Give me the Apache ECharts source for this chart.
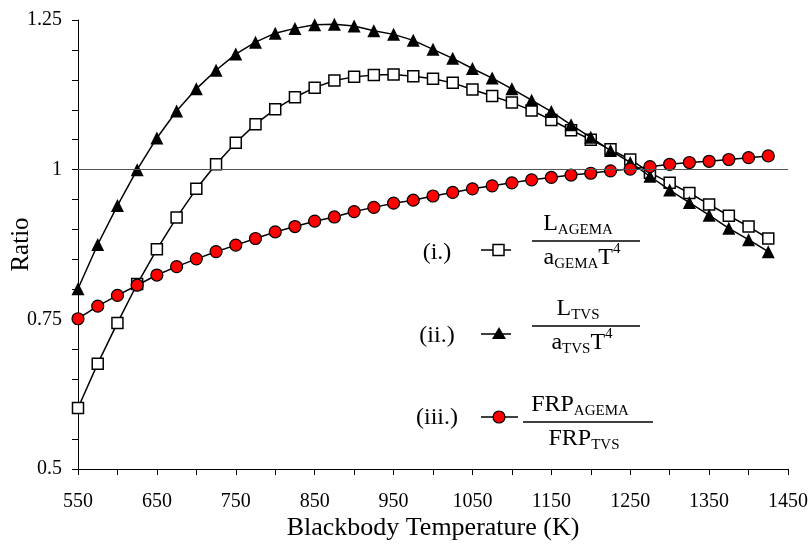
<!DOCTYPE html>
<html>
<head>
<meta charset="utf-8">
<script src="https://cdn.jsdelivr.net/npm/echarts@6/dist/echarts.min.js"></script>
<style>
  html, body { margin: 0; padding: 0; background: #fff; }
  #main { width: 809px; height: 546px; }
</style>
</head>
<body>
<div id="main"></div>
<script>
// blackbody temperatures (K)
var temps = [550, 575, 600, 625, 650, 675, 700, 725, 750, 775, 800, 825, 850, 875, 900, 925, 950, 975,
    1000, 1025, 1050, 1075, 1100, 1125, 1150, 1175, 1200, 1225, 1250, 1275, 1300, 1325, 1350, 1375, 1400, 1425];

// (i.) L_AGEMA / a_GEMA T^4
var agema = [0.602, 0.676, 0.744, 0.809, 0.867, 0.920, 0.968, 1.009, 1.045, 1.076, 1.101, 1.121, 1.137, 1.149, 1.155, 1.158, 1.159, 1.156,
    1.152, 1.145, 1.134, 1.123, 1.112, 1.099, 1.083, 1.066, 1.050, 1.034, 1.017, 0.995, 0.978, 0.961, 0.942, 0.923, 0.905, 0.885];

// (ii.) L_TVS / a_TVS T^4
var tvs = [0.801, 0.875, 0.940, 1.000, 1.053, 1.098, 1.135, 1.166, 1.193, 1.213, 1.228, 1.236, 1.242, 1.243, 1.240, 1.232, 1.226, 1.216,
    1.201, 1.186, 1.169, 1.153, 1.135, 1.116, 1.097, 1.075, 1.054, 1.032, 1.012, 0.989, 0.966, 0.945, 0.924, 0.902, 0.883, 0.863];

// (iii.) FRP_AGEMA / FRP_TVS
var frp = [0.751, 0.772, 0.790, 0.807, 0.824, 0.838, 0.851, 0.863, 0.874, 0.885, 0.896, 0.905, 0.914, 0.921, 0.930, 0.937, 0.944, 0.949,
    0.956, 0.962, 0.968, 0.973, 0.978, 0.983, 0.987, 0.991, 0.994, 0.998, 1.001, 1.005, 1.009, 1.012, 1.014, 1.017, 1.020, 1.023];

var yLabels = [0.5, 0.75, 1, 1.25];
var xLabels = [550, 650, 750, 850, 950, 1050, 1150, 1250, 1350, 1450];

function pairs(vals) {
    return temps.map(function (t, i) { return [t, vals[i]]; });
}

var serif = '"Liberation Serif", "Times New Roman", serif';

function fracText(main, sub, tail, sup) {
    var s = '{m|' + main + '}{s|' + sub + '}';
    if (tail) s += '{m|' + tail + '}';
    if (sup) s += '{p|' + sup + '}';
    return s;
}
var rich = {
    m: { fontFamily: serif, fontSize: 24, lineHeight: 28, verticalAlign: 'bottom' },
    s: { fontFamily: serif, fontSize: 15, lineHeight: 28, verticalAlign: 'bottom', padding: [0, 0, -2, 0] },
    p: { fontFamily: serif, fontSize: 15, lineHeight: 28, verticalAlign: 'top' }
};

// r: label text, label y, marker y, fraction line y, numerator y, denominator y
function legendRow(r) {
    var cx = (r.x1 + r.x2) / 2;
    var items = [
        { type: 'text', style: { text: r.label, x: 437, y: r.ly, align: 'center', verticalAlign: 'middle', font: '24px ' + serif, fill: '#000' } },
        { type: 'line', shape: { x1: 481, y1: r.my, x2: r.mx2, y2: r.my }, style: { stroke: '#000', lineWidth: 1.5 } },
        { type: 'line', shape: { x1: r.x1, y1: r.fy, x2: r.x2, y2: r.fy }, style: { stroke: '#000', lineWidth: 1.5 } },
        { type: 'text', style: { text: r.num, x: cx - 8, y: r.ny, align: 'center', verticalAlign: 'middle', rich: rich, fill: '#000' } },
        { type: 'text', style: { text: r.den, x: cx - 4, y: r.dy, align: 'center', verticalAlign: 'middle', rich: rich, fill: '#000' } }
    ];
    var y = r.my;
    if (r.marker === 'rect') {
        items.push({ type: 'rect', shape: { x: 493, y: y - 5.5, width: 11, height: 11 }, style: { fill: '#fff', stroke: '#000', lineWidth: 1.5 } });
    } else if (r.marker === 'triangle') {
        items.push({ type: 'polygon', shape: { points: [[499, y - 7], [506, y + 5], [492, y + 5]] }, style: { fill: '#000' } });
    } else {
        items.push({ type: 'circle', shape: { cx: 499, cy: y, r: 6 }, style: { fill: '#ff0000', stroke: '#000', lineWidth: 1.2 } });
    }
    return items;
}

var graphics = []
    .concat(legendRow({ label: '(i.)', ly: 253, my: 250, mx2: 511, fy: 241, ny: 222, dy: 256, x1: 532, x2: 640,
        num: fracText('L', 'AGEMA'), den: fracText('a', 'GEMA', 'T', '4'), marker: 'rect' }))
    .concat(legendRow({ label: '(ii.)', ly: 336, my: 334, mx2: 511, fy: 326, ny: 307, dy: 341, x1: 532, x2: 640,
        num: fracText('L', 'TVS'), den: fracText('a', 'TVS', 'T', '4'), marker: 'triangle' }))
    .concat(legendRow({ label: '(iii.)', ly: 418, my: 417, mx2: 518, fy: 422, ny: 403, dy: 437, x1: 523, x2: 653,
        num: fracText('FRP', 'AGEMA'), den: fracText('FRP', 'TVS'), marker: 'circle' }));

var option = {
    backgroundColor: '#fff',
    animation: false,
    grid: { left: 78, right: 21, top: 20, bottom: 77, outerBoundsMode: 'none', containLabel: false },
    xAxis: {
        type: 'value',
        min: 550,
        max: 1450,
        interval: 50,
        name: 'Blackbody Temperature (K)',
        nameLocation: 'middle',
        nameGap: 46,
        nameMoveOverlap: false,
        nameTextStyle: { fontFamily: serif, fontSize: 26, color: '#000' },
        axisLine: { lineStyle: { color: '#000', width: 1 } },
        axisTick: { show: true, length: 6, lineStyle: { color: '#000' } },
        axisLabel: {
            margin: 23,
            fontFamily: serif,
            fontSize: 20,
            color: '#000',
            formatter: function (v) { return xLabels.indexOf(Math.round(v)) >= 0 ? String(Math.round(v)) : ''; }
        },
        splitLine: { show: false }
    },
    yAxis: {
        type: 'value',
        min: 0.5,
        max: 1.25,
        interval: 0.05,
        name: 'Ratio',
        nameLocation: 'middle',
        nameGap: 44,
        nameMoveOverlap: false,
        nameTextStyle: { fontFamily: serif, fontSize: 25, color: '#000' },
        axisLine: { show: true, lineStyle: { color: '#000', width: 1 } },
        axisTick: { show: true, length: 6, lineStyle: { color: '#000' } },
        axisLabel: {
            margin: 16,
            fontFamily: serif,
            fontSize: 20,
            color: '#000',
            formatter: function (v) {
                for (var i = 0; i < yLabels.length; i++) {
                    if (Math.abs(v - yLabels[i]) < 1e-6) return String(yLabels[i]);
                }
                return '';
            }
        },
        splitLine: { show: false }
    },
    series: [
        {
            name: 'AGEMA',
            type: 'line',
            data: pairs(agema),
            symbol: 'rect',
            symbolSize: 11,
            lineStyle: { color: '#000', width: 1.5 },
            itemStyle: { color: '#fff', borderColor: '#000', borderWidth: 1.5 },
            z: 2,
            markLine: {
                silent: true,
                symbol: ['none', 'none'],
                label: { show: false },
                lineStyle: { color: '#555', width: 1, type: 'solid' },
                data: [{ yAxis: 1 }]
            }
        },
        {
            name: 'TVS',
            type: 'line',
            data: pairs(tvs),
            symbol: 'triangle',
            symbolSize: 13,
            lineStyle: { color: '#000', width: 1.5 },
            itemStyle: { color: '#000', borderColor: '#000', borderWidth: 0 },
            z: 3
        },
        {
            name: 'FRP',
            type: 'line',
            data: pairs(frp),
            symbol: 'circle',
            symbolSize: 12,
            lineStyle: { color: '#000', width: 1.5 },
            itemStyle: { color: '#ff0000', borderColor: '#000', borderWidth: 1.2 },
            z: 4
        }
    ],
    graphic: graphics
};

echarts.init(document.getElementById('main')).setOption(option);
</script>
</body>
</html>
